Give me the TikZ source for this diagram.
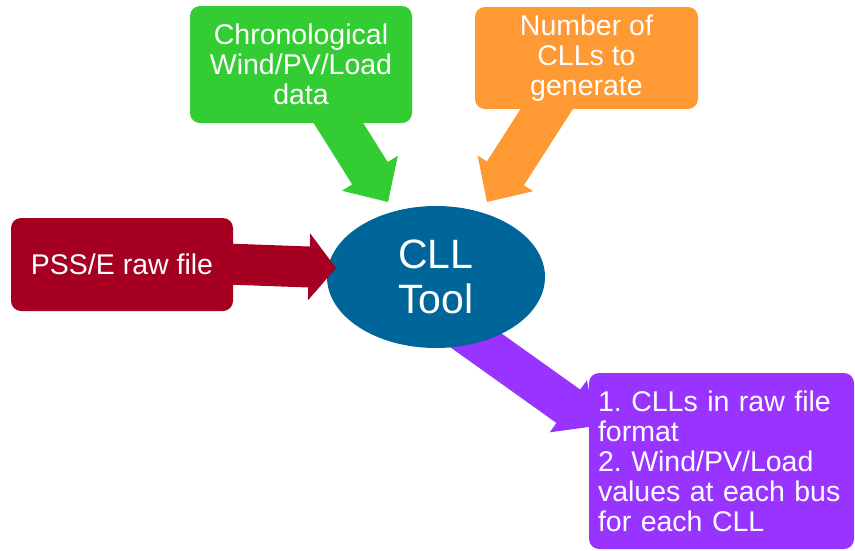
\documentclass[tikz,border=0pt]{standalone}
\usepackage{fontspec}
\setmainfont{Liberation Sans}
\usetikzlibrary{calc,shapes.geometric}
\frenchspacing

\definecolor{grn}{RGB}{51,204,51}
\definecolor{org}{RGB}{255,153,51}
\definecolor{crimson}{RGB}{165,0,33}
\definecolor{teal}{RGB}{0,102,153}
\definecolor{violet}{RGB}{153,51,255}

% Block arrow: [fill options]{start}{tip}{half shaft width}{half head width}{head length}
\newcommand\blockarrow[6][]{%
  \coordinate (ba-s) at (#2);
  \coordinate (ba-e) at (#3);
  \coordinate (ba-h) at ($(ba-e)!#6!(ba-s)$);
  \fill[#1] ($(ba-s)!#4!90:(ba-e)$) -- ($(ba-h)!#4!90:(ba-e)$)
    -- ($(ba-h)!#5!90:(ba-e)$) -- (ba-e) -- ($(ba-h)!#5!-90:(ba-e)$)
    -- ($(ba-h)!#4!-90:(ba-e)$) -- ($(ba-s)!#4!-90:(ba-e)$) -- cycle;
}

\tikzset{
  inbox/.style={rounded corners=10pt, inner sep=0pt, text=white,
    align=center, font=\fontsize{28.5}{30}\selectfont},
  toolnode/.style={ellipse, fill=teal, inner sep=0pt, text=white,
    align=center, font=\fontsize{41}{45}\selectfont},
}

\begin{document}
\begin{tikzpicture}[x=1pt, y=-1pt]
  \useasboundingbox (0,0) rectangle (855,550);

  % arrow end points
  \coordinate (g-start) at (329,108);
  \coordinate (g-tip)   at (388,202);
  \coordinate (o-start) at (557,93);
  \coordinate (o-tip)   at (487,202);
  \coordinate (r-start) at (200,263);
  \coordinate (r-tip)   at (336,268);
  \coordinate (p-start) at (460,329);
  \coordinate (p-tip)   at (596,426);

  % output arrow runs under the tool ellipse
  \blockarrow[fill=violet]{p-start}{p-tip}{20.5pt}{32pt}{34pt}

  \node[toolnode, minimum width=218pt, minimum height=142pt] (tool) at (436,277) {CLL\\Tool};

  % input arrows
  \blockarrow[fill=crimson]{r-start}{r-tip}{20.5pt}{33.5pt}{27pt}
  \blockarrow[fill=grn]{g-start}{g-tip}{21pt}{33pt}{34pt}
  \blockarrow[fill=org]{o-start}{o-tip}{22pt}{33pt}{34pt}

  % boxes
  \node[inbox, fill=grn, minimum width=222pt, minimum height=117pt] (chrono) at (301,64.5)
    {Chronological\\Wind/PV/Load\\data};
  \node[inbox, fill=org, minimum width=223pt, minimum height=102pt] (count) at (586.5,58)
    {Number of\\CLLs to\\generate};
  \node[inbox, fill=crimson, minimum width=222pt, minimum height=93pt] (raw) at (122,264.5)
    {PSS/E raw file};
  \node[inbox, fill=violet, minimum width=265pt, minimum height=176pt,
    text width=247pt, align=left] (out) at (721.5,461)
    {1. CLLs in raw file\\format\\2. Wind/PV/Load\\values at each bus\\for each CLL};
\end{tikzpicture}
\end{document}
